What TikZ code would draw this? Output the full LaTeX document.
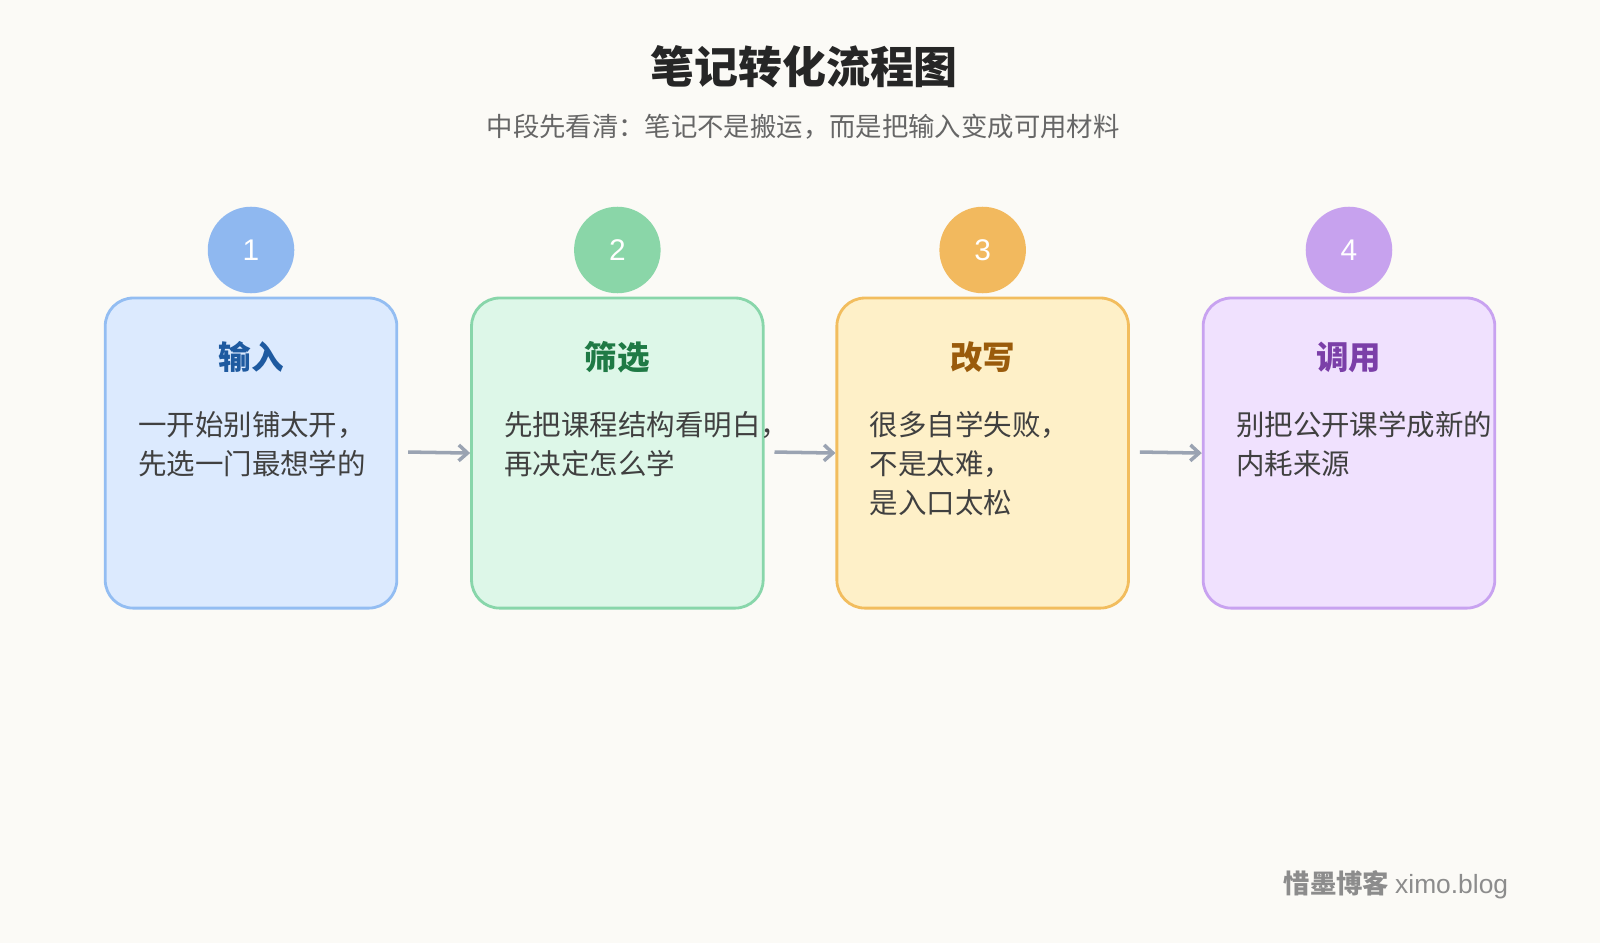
\documentclass[tikz,border=0pt]{standalone}
\usepackage{fontspec}
\newfontfamily\cjk{Noto Sans CJK SC}
\setsansfont{Liberation Sans}
\usetikzlibrary{positioning,arrows.meta}
\definecolor{bgc}{HTML}{FBFAF6}
\definecolor{fillA}{HTML}{DCEAFE}\definecolor{lineA}{HTML}{93BDF2}\definecolor{dotA}{HTML}{8FB8F0}\definecolor{headA}{HTML}{1E5AA0}
\definecolor{fillB}{HTML}{DDF7E8}\definecolor{lineB}{HTML}{88D6AA}\definecolor{dotB}{HTML}{8AD6A8}\definecolor{headB}{HTML}{1F7A45}
\definecolor{fillC}{HTML}{FEF0C8}\definecolor{lineC}{HTML}{F2BD5E}\definecolor{dotC}{HTML}{F2B95E}\definecolor{headC}{HTML}{9A5B0B}
\definecolor{fillD}{HTML}{F0E1FE}\definecolor{lineD}{HTML}{C8A2F0}\definecolor{dotD}{HTML}{C7A2EE}\definecolor{headD}{HTML}{7B3FA8}
\definecolor{arrowc}{HTML}{9AA3B2}
\tikzset{
  stagebox/.style={draw=#1,line width=1.6pt,rounded corners=16pt,minimum width=5.83cm,minimum height=6.2cm},
  stagedot/.style={circle,fill=#1,minimum size=1.73cm,inner sep=0pt,text=white,font=\sffamily\fontsize{17}{17}\selectfont},
  stagehead/.style={font=\cjk\bfseries\fontsize{18.5}{18.5}\selectfont,text=#1},
  stagetext/.style={font=\cjk\fontsize{16.2}{22}\selectfont,text=black!75,align=left,anchor=north west,inner sep=0pt},
  flow/.style={draw=arrowc,line width=2pt,-{Straight Barb[length=5pt,width=9pt]}}
}
\begin{document}
\begin{tikzpicture}[x=0.0204cm,y=-0.0204cm]
  \useasboundingbox (0,0) rectangle (1568,924);
  \fill[bgc] (0,0) rectangle (1568,924);
  \node[font=\cjk\bfseries\fontsize{25}{25}\selectfont,text=black!85] (title) at (788,65) {笔记转化流程图};
  \node[font=\cjk\fontsize{15}{15}\selectfont,text=black!60] (sub) at (787,124) {中段先看清：笔记不是搬运，而是把输入变成可用材料};
  % stages
  \foreach \i/\x/\c/\h/\t in {1/246/A/输入/{一开始别铺太开，\\先选一门最想学的},
                               2/605/B/筛选/{先把课程结构看明白，\\再决定怎么学},
                               3/963/C/改写/{很多自学失败，\\不是太难，\\是入口太松},
                               4/1322/D/调用/{别把公开课学成新的\\内耗来源}} {
    \node[stagebox=line\c,fill=fill\c] (box\i) at (\x,444) {};
    \node[stagedot=dot\c] (dot\i) at (\x,245) {\i};
    \node[stagehead=head\c] (head\i) at (\x,350) {\h};
    \node[stagetext] (text\i) at (\x-111,403) {\t};
  }
  \draw[flow] (400,443) -- (box2.west);
  \draw[flow] (759,443) -- (box3.west);
  \draw[flow] (1117,443) -- (box4.west);
  \node[anchor=east,font=\cjk\bfseries\fontsize{15}{15}\selectfont,text=black!45] (mark) at (1484,867) {惜墨博客 \sffamily\mdseries ximo.blog};
\end{tikzpicture}
\end{document}
